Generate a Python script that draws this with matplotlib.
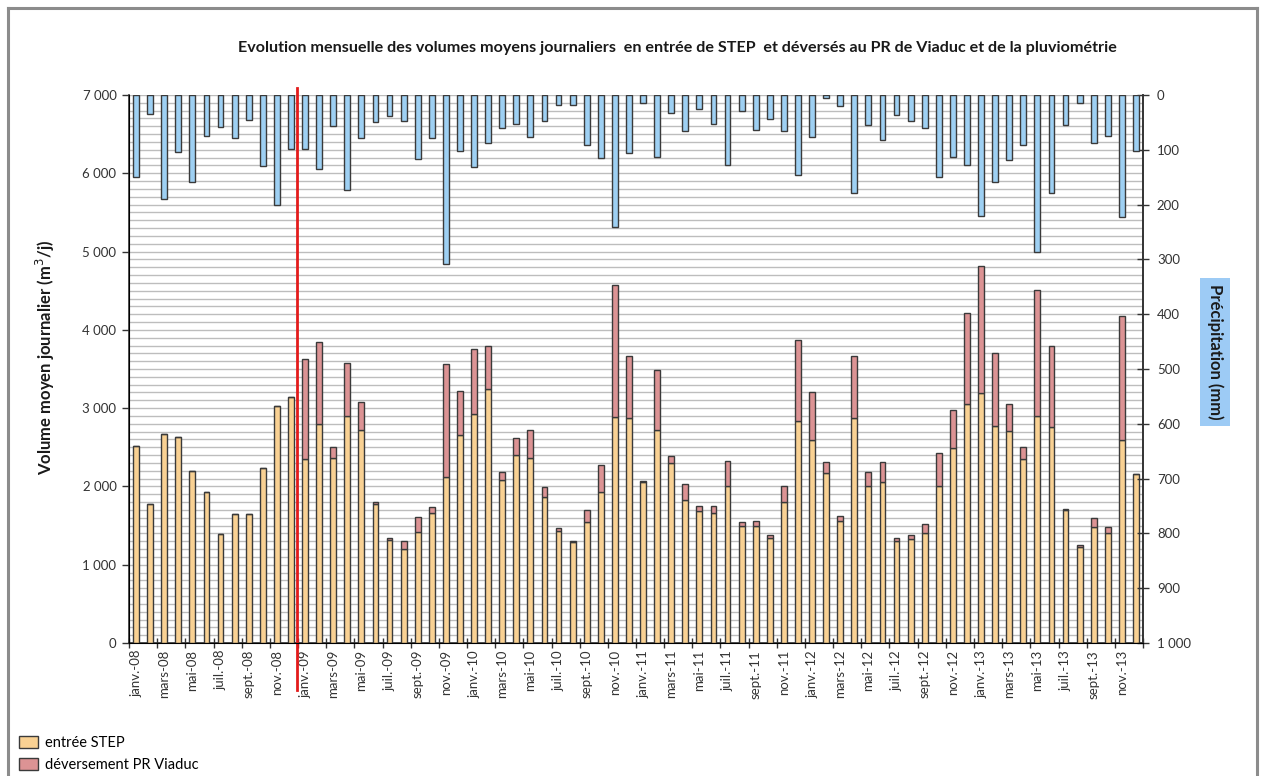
import matplotlib
matplotlib.use("Agg")
import matplotlib.pyplot as plt
from matplotlib.lines import Line2D
from matplotlib.patches import Patch
from matplotlib.ticker import FuncFormatter, MultipleLocator
import numpy as np

plt.rcParams['font.family'] = ['Lato', 'DejaVu Sans']

# Monthly categories, January 2008 -> December 2013
month_names = ['janv.', 'févr.', 'mars', 'avr.', 'mai', 'juin',
               'juil.', 'août', 'sept.', 'oct.', 'nov.', 'déc.']
years = ['08', '09', '10', '11', '12', '13']
months = [f"{m}-{y}" for y in years for m in month_names]

# Total daily volume (m3/j) = inlet + overflow
total_volume = [2520, 1775, 2670, 2635, 2200, 1930, 1395, 1650, 1650, 2235, 3030, 3140,
                3630, 3845, 2510, 3580, 3080, 1805, 1335, 1305, 1615, 1735, 3560, 3225,
                3760, 3790, 2180, 2615, 2720, 1990, 1470, 1305, 1700, 2280, 4570, 3670,
                2075, 3490, 2390, 2025, 1750, 1750, 2330, 1540, 1560, 1385, 2005, 3865,
                3205, 2310, 1625, 3670, 2180, 2310, 1335, 1385, 1520, 2430, 2975, 4220,
                4820, 3710, 3055, 2505, 4510, 3800, 1710, 1250, 1595, 1485, 4175, 2165]

# Daily volume entering the treatment plant (m3/j)
entree_step = [2520, 1775, 2670, 2635, 2200, 1930, 1395, 1650, 1650, 2235, 3030, 3140,
               2345, 2800, 2365, 2900, 2720, 1780, 1315, 1205, 1420, 1655, 2125, 2655,
               2920, 3250, 2080, 2400, 2360, 1870, 1435, 1295, 1550, 1935, 2890, 2870,
               2055, 2720, 2295, 1825, 1690, 1655, 2010, 1500, 1500, 1335, 1800, 2830,
               2595, 2175, 1560, 2870, 2000, 2060, 1305, 1325, 1400, 2010, 2495, 3055,
               3190, 2775, 2710, 2345, 2905, 2765, 1700, 1230, 1485, 1400, 2595, 2165]

# Monthly rainfall (mm)
precipitation = [150, 35, 190, 104, 158, 74, 59, 78, 46, 130, 201, 99,
                 99, 135, 56, 173, 79, 50, 38, 48, 117, 79, 308, 102,
                 132, 88, 61, 53, 76, 48, 18, 18, 92, 115, 240, 106,
                 15, 114, 33, 66, 26, 53, 128, 30, 64, 43, 66, 146,
                 77, 6, 20, 179, 54, 82, 37, 48, 61, 150, 114, 127,
                 220, 158, 119, 92, 286, 179, 54, 15, 88, 74, 222, 102]

deversement = [t - e for t, e in zip(total_volume, entree_step)]

W, H = 1261, 776
fig = plt.figure(figsize=(W / 100, H / 100), dpi=100)
fig.patch.set_facecolor('white')

# outer chart frame
frame_kw = dict(color='#8c8c8c', lw=2.2, transform=fig.transFigure, clip_on=False)
fig.add_artist(Line2D([8 / W, 8 / W], [0, 1 - 8 / H], **frame_kw))
fig.add_artist(Line2D([1257 / W, 1257 / W], [0, 1 - 8 / H], **frame_kw))
fig.add_artist(Line2D([8 / W, 1257 / W], [1 - 8 / H, 1 - 8 / H], **frame_kw))

ax = fig.add_axes([129 / W, 1 - 643 / H, (1143 - 129) / W, (643 - 95) / H])
x = np.arange(len(months))
bw = 0.42
edge = '#3a3a3a'

c_step = '#F9D193'
c_dev = '#DC9394'
c_rain = '#9ED0F3'

ax.bar(x, entree_step, width=bw, color=c_step, edgecolor=edge, linewidth=1.0, zorder=3)
ax.bar(x, deversement, width=bw, bottom=entree_step, color=c_dev, edgecolor=edge,
       linewidth=1.0, zorder=3)

ax.set_xlim(-0.5, len(months) - 0.5)
ax.set_ylim(0, 7000)
ax.yaxis.set_major_locator(MultipleLocator(1000))
ax.yaxis.set_minor_locator(MultipleLocator(100))
ax.grid(axis='y', which='both', color='#bdbdbd', linewidth=1.0, zorder=0)
ax.set_axisbelow(True)

fmt_thousands = FuncFormatter(lambda v, p: f"{int(v):,}".replace(',', ' '))
ax.yaxis.set_major_formatter(fmt_thousands)
ax.tick_params(axis='y', which='major', direction='out', length=5, width=1,
               colors='#333333', labelsize=9.5, pad=4)
ax.tick_params(axis='y', which='minor', length=0)

# x axis: ticks between every second month, labels on odd months
ax.set_xticks(np.arange(-0.5, len(months), 2))
ax.set_xticklabels([])
ax.set_xticks(x[::2], minor=True)
ax.set_xticklabels(months[::2], minor=True, rotation=90, fontsize=9.5, color='#333333')
ax.tick_params(axis='x', which='major', direction='inout', length=7, width=1, colors='#333333')
ax.tick_params(axis='x', which='minor', length=0, pad=5)

ax.spines['top'].set_visible(False)
for s in ['left', 'bottom', 'right']:
    ax.spines[s].set_color('#333333')
    ax.spines[s].set_linewidth(1.2)

fig.text(45 / W, 1 - 357 / H, 'Volume moyen journalier (m$^3$/j)', rotation=90,
         ha='center', va='center', fontsize=12, fontweight='bold', color='#1a1a1a')

# precipitation on an inverted secondary axis
ax2 = ax.twinx()
ax2.bar(x, precipitation, width=bw, color=c_rain, edgecolor=edge, linewidth=1.0, zorder=3)
ax2.set_ylim(1000, 0)
ax2.yaxis.set_major_locator(MultipleLocator(100))
ax2.yaxis.set_major_formatter(fmt_thousands)
ax2.tick_params(axis='y', direction='inout', length=8, width=1, colors='#333333',
                labelsize=9.5, pad=6)
ax2.spines['top'].set_visible(False)
ax2.spines['right'].set_color('#333333')
ax2.spines['right'].set_linewidth(1.2)

fig.text(1215 / W, 1 - 352 / H, 'Précipitation (mm)', rotation=-90,
         ha='center', va='center', fontsize=12, fontweight='bold', color='#1a1a1a',
         bbox=dict(boxstyle='square,pad=0.4', facecolor='#9DCBF5', edgecolor='none'))

# separator between 2008 and 2009
ax.add_line(Line2D([11.45, 11.45], [-0.085, 1.013], color='#e31b1b', lw=2,
                   transform=ax.get_xaxis_transform(), clip_on=False, zorder=6))

fig.text(677 / W, 1 - 48 / H,
         'Evolution mensuelle des volumes moyens journaliers  en entrée de STEP  '
         'et déversés au PR de Viaduc et de la pluviométrie',
         ha='center', va='center', fontsize=11.6, fontweight='bold', color='#1a1a1a')

handles = [Patch(facecolor=c_step, edgecolor=edge, linewidth=1.0, label='entrée STEP'),
           Patch(facecolor=c_dev, edgecolor=edge, linewidth=1.0, label='déversement PR Viaduc')]
fig.legend(handles=handles, loc='lower left', bbox_to_anchor=(6 / W, -9 / H),
           frameon=False, fontsize=10.5, handlelength=1.3, handleheight=0.9,
           labelspacing=0.55, handletextpad=0.5)

fig.savefig('out.png', dpi=100)
